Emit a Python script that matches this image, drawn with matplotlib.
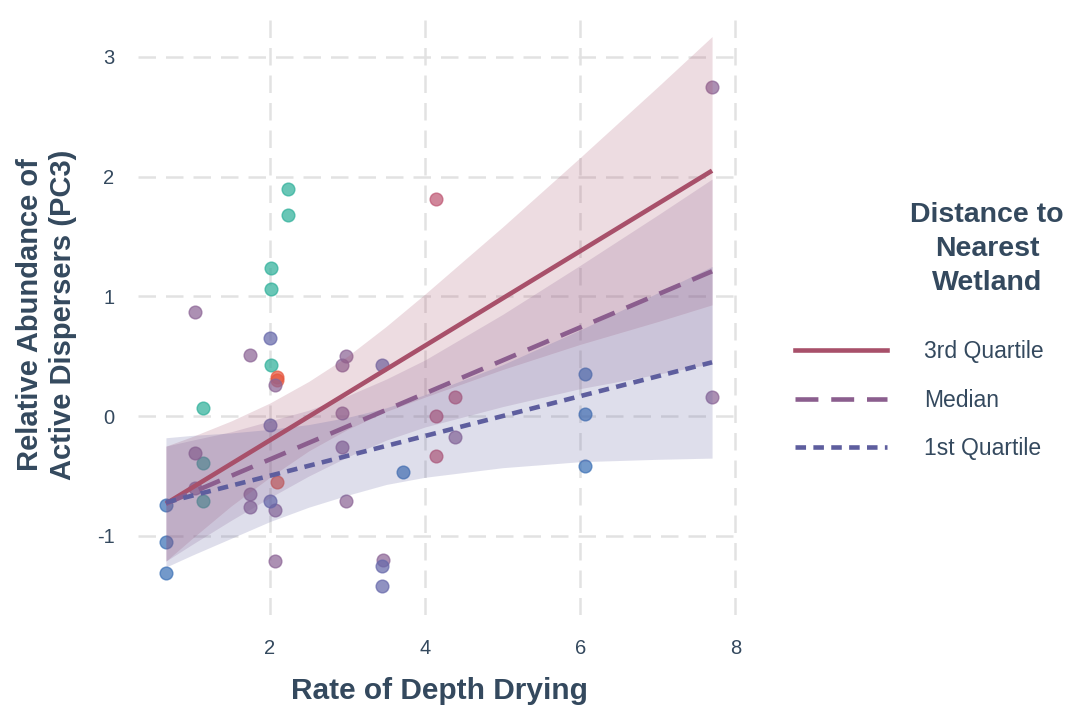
import matplotlib
matplotlib.use("Agg")
import matplotlib.pyplot as plt
from matplotlib.lines import Line2D

# ---------------- data ----------------
teal_x = [2.23, 2.23, 2.01, 2.01, 2.01, 1.14, 1.14, 1.14]
teal_y = [1.90, 1.68, 1.24, 1.06, 0.43, 0.07, -0.39, -0.71]
orange_x = [2.09, 2.09, 2.09]
orange_y = [0.33, 0.30, -0.55]
rose_x = [4.14, 4.14, 4.14, 4.39]
rose_y = [1.81, 0.00, -0.33, 0.16]
mauve_x = [1.03, 1.03, 1.03, 1.75, 1.75, 1.75, 2.06, 2.06, 2.06, 2.93, 2.98,
           2.93, 2.93, 2.98, 3.46, 4.39, 7.70, 7.70]
mauve_y = [0.87, -0.31, -0.60, 0.51, -0.65, -0.76, 0.26, -0.78, -1.21, 0.43, 0.50,
           0.03, -0.26, -0.71, -1.20, -0.17, 2.75, 0.16]
slate_x = [2.00, 2.00, 2.00, 3.44, 3.44, 3.44]
slate_y = [0.65, -0.07, -0.71, 0.43, -1.25, -1.42]
blue_x = [0.66, 0.66, 0.66, 3.71, 6.06, 6.06, 6.06]
blue_y = [-0.74, -1.05, -1.31, -0.47, 0.35, 0.02, -0.42]

band_x = [0.66, 1.0, 1.5, 2.0, 2.5, 3.0, 3.5, 4.0, 5.0, 6.0, 7.0, 7.7]
q3_upper = [-0.25, -0.17, -0.04, 0.11, 0.29, 0.50, 0.75, 1.02, 1.58, 2.16, 2.75, 3.17]
q3_lower = [-1.21, -1.02, -0.75, -0.51, -0.29, -0.11, 0.04, 0.16, 0.39, 0.60, 0.79, 0.93]
med_upper = [-0.25, -0.20, -0.13, -0.04, 0.05, 0.17, 0.31, 0.47, 0.85, 1.26, 1.68, 1.98]
med_lower = [-1.21, -1.07, -0.87, -0.68, -0.50, -0.34, -0.20, -0.09, 0.08, 0.23, 0.35, 0.44]
q1_upper = [-0.18, -0.16, -0.14, -0.11, -0.07, -0.01, 0.07, 0.18, 0.43, 0.72, 1.03, 1.25]
q1_lower = [-1.26, -1.16, -1.02, -0.88, -0.76, -0.66, -0.57, -0.51, -0.43, -0.38, -0.36, -0.35]

fit_x = [0.66, 7.70]
q3_fit = [-0.73, 2.05]
med_fit = [-0.73, 1.21]
q1_fit = [-0.72, 0.45]

legend_labels = ["3rd Quartile", "Median", "1st Quartile"]
x_ticks = [2, 4, 6, 8]
y_ticks = [-1, 0, 1, 2, 3]

# ---------------- style ----------------
plt.rcParams['font.family'] = ['Liberation Sans', 'DejaVu Sans']
TXT = "#34495E"
C_Q3 = "#A8506A"
C_MED = "#8B5E8E"
C_Q1 = "#5E5E9E"

fig = plt.figure(figsize=(10.68, 7.07), dpi=100)
ax = fig.add_axes([138/1068, 1-615/707, (740-138)/1068, (615-15)/707])

pt_kw = dict(s=84, alpha=0.72, linewidths=1.0, zorder=2)
for xs, ys, c in [(teal_x, teal_y, "#2FB09A"), (orange_x, orange_y, "#E6573F"),
                  (rose_x, rose_y, "#BE5773"), (mauve_x, mauve_y, "#8C6596"),
                  (slate_x, slate_y, "#6668AA"), (blue_x, blue_y, "#3D72B6")]:
    ax.scatter(xs, ys, color=c, edgecolors=c, **pt_kw)

ax.fill_between(band_x, q3_lower, q3_upper, color=C_Q3, alpha=0.2, lw=0, zorder=3)
ax.fill_between(band_x, med_lower, med_upper, color=C_MED, alpha=0.2, lw=0, zorder=3)
ax.fill_between(band_x, q1_lower, q1_upper, color=C_Q1, alpha=0.2, lw=0, zorder=3)

lw = 3.3
ax.plot(fit_x, q3_fit, color=C_Q3, lw=lw, solid_capstyle='butt', zorder=5)
ax.plot(fit_x, med_fit, color=C_MED, lw=lw, dashes=(5, 2.8), zorder=5)
ax.plot(fit_x, q1_fit, color=C_Q1, lw=lw, dashes=(2.3, 1.6), zorder=5)

ax.set_xlim(0.30, 8.06)
ax.set_ylim(-1.66, 3.35)
ax.set_xticks(x_ticks)
ax.set_yticks(y_ticks)
ax.set_xticklabels([str(t) for t in x_ticks])
ax.set_yticklabels([str(t) for t in y_ticks])
for s in ax.spines.values():
    s.set_visible(False)
ax.tick_params(length=0, labelsize=14.5, labelcolor=TXT, pad=17)
ax.grid(True, color="#E2E2E2", lw=1.8, linestyle=(0, (7, 4)), zorder=0)
ax.set_axisbelow(True)

ax.set_xlabel("Rate of Depth Drying", fontsize=21.5, fontweight='bold', color=TXT, labelpad=14)
ax.set_ylabel("Relative Abundance of\nActive Dispersers (PC3)", fontsize=21,
              fontweight='bold', color=TXT, labelpad=14, linespacing=1.25)

fig.text(987/1068, 1-249/707, "Distance to\nNearest\nWetland", fontsize=20.5,
         fontweight='bold', color=TXT, ha='center', va='center', multialignment='center',
         linespacing=1.4)

handles = [Line2D([], [], color=C_Q3, lw=lw),
           Line2D([], [], color=C_MED, lw=lw, dashes=(5, 2.8)),
           Line2D([], [], color=C_Q1, lw=lw, dashes=(2.3, 1.6))]
leg = fig.legend(handles, legend_labels, loc='upper left',
                 bbox_to_anchor=(795/1068, 1-340/707), frameon=False,
                 fontsize=16.5, handlelength=4.0, handletextpad=1.65,
                 labelspacing=1.12, borderpad=0, borderaxespad=0)
for t in leg.get_texts():
    t.set_color(TXT)

fig.savefig("out.png", dpi=100)
